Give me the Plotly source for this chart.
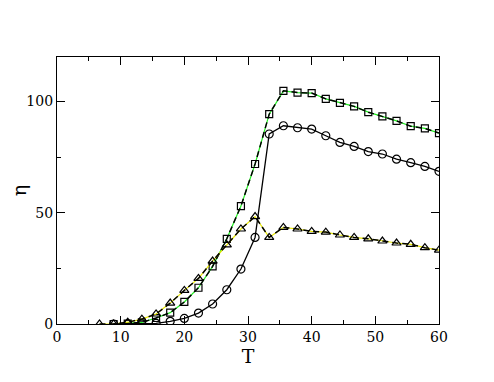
import plotly.graph_objects as go

# temperature grid
T = [6.67, 8.89, 11.11, 13.33, 15.56, 17.78, 20.0, 22.22, 24.44, 26.67,
     28.89, 31.11, 33.33, 35.56, 37.78, 40.0, 42.22, 44.44, 46.67, 48.89,
     51.11, 53.33, 55.56, 57.78, 60.0]

eta_square = [0.0, 0.2, 0.7, 2.7, 5.1, 9.9, 16.3, 25.9, 38.3, 53.0,
              71.9, 94.3, 104.8, 104.0, 103.8, 101.2, 99.4, 97.8, 95.2,
              93.3, 91.3, 88.9, 87.9, 85.8]
eta_circle = [0.0, 0.0, 0.1, 0.3, 1.2, 2.5, 4.9, 9.0, 15.4, 24.7,
              38.9, 85.4, 89.1, 88.2, 87.6, 84.6, 81.6, 79.8, 77.5,
              76.4, 74.1, 72.5, 70.8, 68.6]
eta_triangle = [0.0, 0.0, 0.8, 2.2, 4.5, 9.4, 15.1, 20.5, 28.3, 35.6,
                42.7, 48.3, 38.9, 43.4, 42.7, 41.6, 41.3, 40.0, 38.9,
                38.3, 37.3, 36.4, 35.8, 34.3, 33.2]

FONT = "DejaVu Serif"

fig = go.Figure()

# squares: green line under black dashes
fig.add_trace(go.Scatter(x=T[1:], y=eta_square, mode="lines",
                         line=dict(color="#22ee22", width=1.2), showlegend=False))
fig.add_trace(go.Scatter(x=T[1:], y=eta_square, mode="lines+markers",
                         line=dict(color="black", width=1.5, dash="6px,4px"),
                         marker=dict(symbol="square-open", size=7, color="black",
                                     line=dict(width=1.2)),
                         showlegend=False))

# triangles: yellow line under black dashes
fig.add_trace(go.Scatter(x=T, y=eta_triangle, mode="lines",
                         line=dict(color="#e8e800", width=1.2), showlegend=False))
fig.add_trace(go.Scatter(x=T, y=eta_triangle, mode="lines+markers",
                         line=dict(color="black", width=1.5, dash="6px,4px"),
                         marker=dict(symbol="triangle-up-open", size=8, color="black",
                                     line=dict(width=1.2)),
                         showlegend=False))

# circles: plain black line
fig.add_trace(go.Scatter(x=T[1:], y=eta_circle, mode="lines+markers",
                         line=dict(color="black", width=1.3),
                         marker=dict(symbol="circle-open", size=8, color="black",
                                     line=dict(width=1.2)),
                         showlegend=False))

axis = dict(showline=True, linecolor="black", linewidth=1.2, mirror="allticks",
            ticks="inside", ticklen=8, tickcolor="black", tickwidth=1,
            showgrid=False, zeroline=False, automargin=False,
            tickfont=dict(family=FONT, size=14, color="black"),
            minor=dict(ticks="inside", ticklen=4, tickcolor="black"))

fig.update_xaxes(range=[0, 60], dtick=10, **axis,
                 minor_dtick=5,
                 title=dict(text="T", font=dict(family=FONT, size=19, color="black"),
                            standoff=2))
fig.update_yaxes(range=[0, 120], dtick=50, **axis,
                 minor_dtick=25,
                 title=dict(text="η", font=dict(family=FONT, size=19, color="black"),
                            standoff=14))

# page body adds an 8px offset, so shift the margins to compensate
fig.update_layout(width=494, height=382, plot_bgcolor="white", paper_bgcolor="white",
                  font=dict(family=FONT),
                  margin=dict(l=49, r=63, t=49, b=66))

fig.write_html("out.html")
